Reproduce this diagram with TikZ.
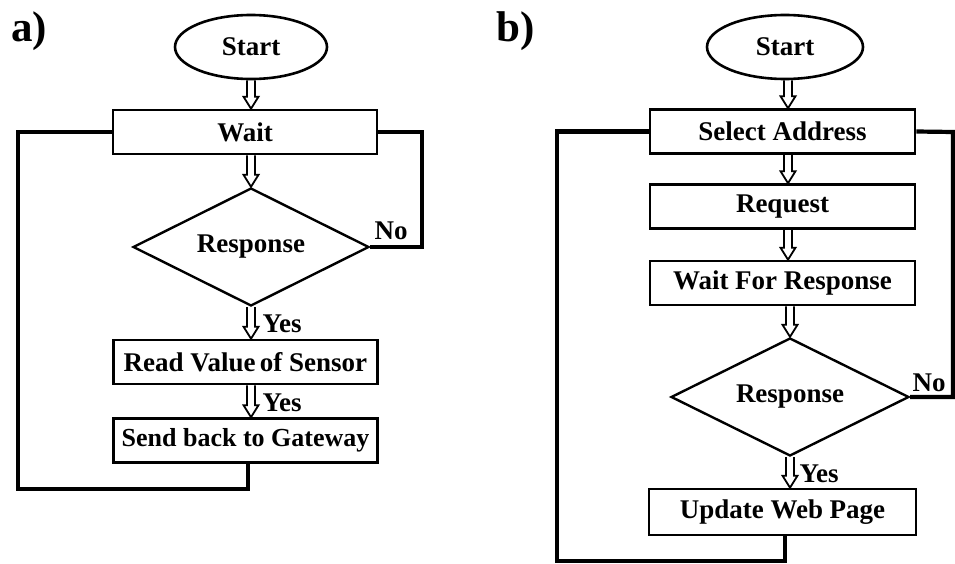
\documentclass[tikz,border=0pt]{standalone}
\usepackage{fontspec}
\setmainfont{Liberation Serif}
\usetikzlibrary{shapes.geometric,calc}
\tikzset{
  txt/.style={font=\bfseries\fontsize{27}{32}\selectfont},
  procbox/.style={draw, line width=2.6pt, rectangle, inner sep=0pt, minimum width=264pt, minimum height=44pt, txt},
  startell/.style={draw, line width=2.6pt, ellipse, inner sep=0pt, minimum width=152pt, minimum height=64pt, txt},
  decide/.style={draw, line width=2.4pt, diamond, aspect=2, inner sep=0pt, minimum width=236pt, minimum height=118pt, txt},
  loopline/.style={line width=4.2pt, line join=miter},
  panel/.style={font=\bfseries\fontsize{43}{48}\selectfont},
  lbl/.style={font=\bfseries\fontsize{27}{32}\selectfont, inner sep=0pt},
  harrow/.style={line width=1.8pt, line join=miter, to path={
    let \p1=(\tikztostart), \p2=(\tikztotarget) in
    (\x1-4pt,\y1) -- (\x1-4pt,\y2+12pt) -- (\x1-7.5pt,\y2+12pt) -- (\x1,\y2)
    -- (\x1+7.5pt,\y2+12pt) -- (\x1+4pt,\y2+12pt) -- (\x1+4pt,\y1)}}
}
\begin{document}
\begin{tikzpicture}[x=1pt,y=-1pt]
\useasboundingbox (0,0) rectangle (955,564);
% ---------- a) ----------
\node[panel] (pa) at (29,31) {a)};
\node[startell] (sa) at (251,47) {Start};
\node[procbox] (wa) at (245,132) {Wait};
\node[decide] (da) at (251,247) {Response};
\node[procbox] (ra) at (245.5,362) {Read Value\,of Sensor};
\node[procbox, font=\bfseries\fontsize{26}{31}\selectfont] (ga) at (245.5,440.5) {Send back to Gateway};
\node[lbl] (noa) at (391,231) {No};
\node[lbl] (ya1) at (282,324) {Yes};
\node[lbl] (ya2) at (282,403) {Yes};
\coordinate (aL) at (18,489);
\coordinate (aR) at (422,132);
\draw[harrow] (sa.south) to (wa.north -| sa.south);
\draw[harrow] ($(sa.south |- wa.south)$) to (da.north);
\draw[harrow] (da.south) to (ra.north -| da.south);
\draw[harrow] ($(da.south |- ra.south)$) to (ga.north -| da.south);
\draw[loopline] (wa.west) -| (aL) -| ([xshift=2.5pt]ga.south);
\draw[loopline] (wa.east) -- (aR) |- (da.east);
% ---------- b) ----------
\node[panel] (pb) at (516,31) {b)};
\node[startell, minimum width=156pt] (sb) at (785,47) {Start};
\node[procbox, minimum width=265pt] (sel) at (782.5,131.5) {Select Address};
\node[procbox, minimum width=265pt] (req) at (782.5,206.5) {Request};
\node[procbox, minimum width=265pt] (wfr) at (782.5,283) {Wait For Response};
\node[decide, minimum width=238pt] (db) at (790,397) {Response};
\node[procbox, minimum width=267pt, minimum height=46pt] (upd) at (782.5,512) {Update Web Page};
\node[lbl] (nob) at (929,383) {No};
\node[lbl] (yb) at (819,474) {Yes};
\coordinate (bL) at (557,561);
\coordinate (bR) at (953,132);
\draw[harrow] ($(sb.south)+(3,0)$) to (sel.north);
\draw[harrow] ($(db.north |- sel.south)+(-2,0)$) to (req.north);
\draw[harrow] ($(db.north |- req.south)+(-2,0)$) to (wfr.north);
\draw[harrow] ($(db.north |- wfr.south)$) to (db.north);
\draw[harrow] (db.south) to (upd.north);
\draw[loopline] (sel.west) -| (bL) -| ([xshift=2.5pt]upd.south);
\draw[loopline] (sel.east) -- (bR) |- (db.east);
\end{tikzpicture}
\end{document}
